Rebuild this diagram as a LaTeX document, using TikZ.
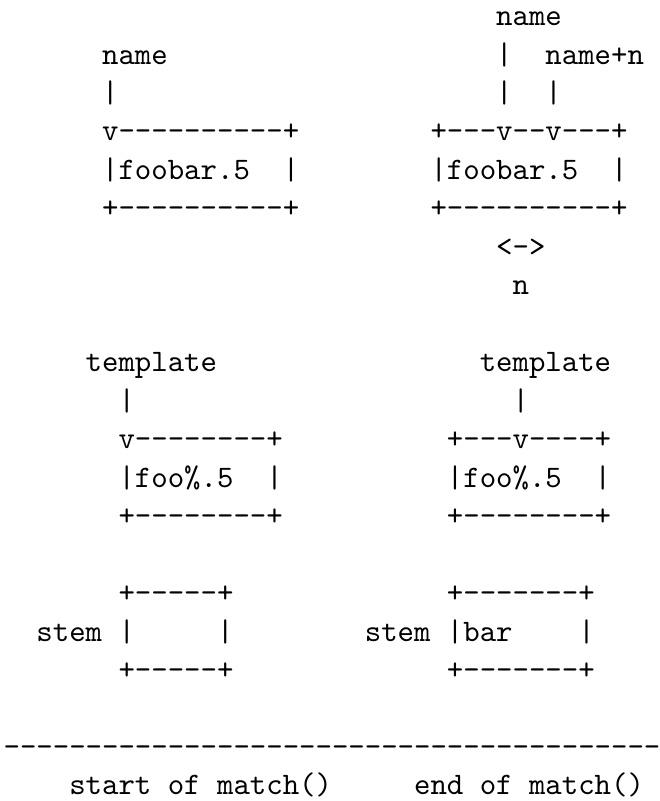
\documentclass[tikz,border=0pt]{standalone}
\usepackage{tikz}

\tikzset{
  ascii/.style={font=\ttfamily, anchor=base west, inner sep=0pt, scale=2.3457}
}

\begin{document}
\begin{tikzpicture}[x=0.75pt,y=0.75pt,yscale=-1,xscale=1]
    %set diagram left start at 0, 660 wide and 801 high
    \useasboundingbox (0,0) rectangle (660,801);

    %% first row: name -> foobar.5
    % Text Node
    \node [ascii] (nameL) at (101.52,64.0) {name};
    % Text Node
    \node [ascii] (barL) at (101.52,102.4) {|};
    % Text Node
    \node [ascii] (topL) at (101.52,140.9) {v----------+};
    % Text Node
    \node [ascii] (fileL) at (101.52,179.4) {|foobar.5};
    % Text Node
    \node [ascii] (sideL) at (282.14,179.4) {|};
    % Text Node
    \node [ascii] (botL) at (101.52,217.9) {+----------+};

    % Text Node
    \node [ascii] (nameR) at (495.6,25.5) {name};
    % Text Node
    \node [ascii] (barRa) at (495.6,64.0) {|};
    % Text Node
    \node [ascii] (namen) at (544.86,64.0) {name+n};
    % Text Node
    \node [ascii] (barRb) at (495.6,102.4) {|};
    % Text Node
    \node [ascii] (barRc) at (544.86,102.4) {|};
    % Text Node
    \node [ascii] (topR) at (429.92,140.9) {+---v--v---+};
    % Text Node
    \node [ascii] (fileR) at (429.92,179.4) {|foobar.5};
    % Text Node
    \node [ascii] (sideR) at (610.54,179.4) {|};
    % Text Node
    \node [ascii] (botR) at (429.92,217.9) {+----------+};
    % Text Node
    \node [ascii] (span) at (495.6,256.3) {<->};
    % Text Node
    \node [ascii] (nlen) at (512.02,294.8) {n};

    %% second row: template -> foo%.5
    % Text Node
    \node [ascii] (tmplL) at (85.10,371.7) {template};
    % Text Node
    \node [ascii] (tbarL) at (117.94,410.2) {|};
    % Text Node
    \node [ascii] (ttopL) at (117.94,448.7) {v--------+};
    % Text Node
    \node [ascii] (patL) at (117.94,487.1) {|foo\%.5};
    % Text Node
    \node [ascii] (tsideL) at (265.72,487.1) {|};
    % Text Node
    \node [ascii] (tbotL) at (117.94,525.6) {+--------+};

    % Text Node
    \node [ascii] (tmplR) at (479.18,371.7) {template};
    % Text Node
    \node [ascii] (tbarR) at (512.02,410.2) {|};
    % Text Node
    \node [ascii] (ttopR) at (446.34,448.7) {+---v----+};
    % Text Node
    \node [ascii] (patR) at (446.34,487.1) {|foo\%.5};
    % Text Node
    \node [ascii] (tsideR) at (594.12,487.1) {|};
    % Text Node
    \node [ascii] (tbotR) at (446.34,525.6) {+--------+};

    %% third row: stem boxes
    % Text Node
    \node [ascii] (stopL) at (117.94,602.6) {+-----+};
    % Text Node
    \node [ascii] (stemL) at (35.84,641.0) {stem |};
    % Text Node
    \node [ascii] (ssideL) at (216.46,641.0) {|};
    % Text Node
    \node [ascii] (sbotL) at (117.94,679.5) {+-----+};

    % Text Node
    \node [ascii] (stopR) at (446.34,602.6) {+-------+};
    % Text Node
    \node [ascii] (stemR) at (364.24,641.0) {stem |bar};
    % Text Node
    \node [ascii] (ssideR) at (577.70,641.0) {|};
    % Text Node
    \node [ascii] (sbotR) at (446.34,679.5) {+-------+};

    %% rule and captions
    % Text Node
    \node [ascii] (rule) at (3,756.4) {----------------------------------------};
    % Text Node
    \node [ascii] (capL) at (68.68,794.9) {start of match()};
    % Text Node
    \node [ascii] (capR) at (413.50,794.9) {end of match()};
\end{tikzpicture}
\end{document}
